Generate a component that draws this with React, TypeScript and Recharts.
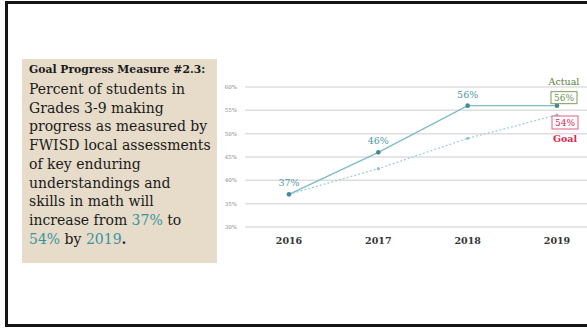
import { LineChart, Line, XAxis, YAxis, CartesianGrid, LabelList } from "recharts";

const years = ["2016", "2017", "2018", "2019"];
const actual = [37, 46, 56, 56];
const goal = [37, 42.5, 49, 54];
const yTicks = [30, 35, 40, 45, 50, 55, 60];

const data = years.map((year, i) => ({ year, actual: actual[i], goal: goal[i] }));

const TEAL = "#7dbcc4";
const DOT = "#3f8c96";
const LABEL = "#4f9aa5";
const SERIF = "'DejaVu Serif', serif";

const ActualLabel = (props: any) => {
  const { x, y, index, value } = props;
  if (index === years.length - 1) {
    return (
      <g>
        <text x={x + 7} y={y - 21} textAnchor="middle" fontFamily={SERIF} fontSize={9.5} fill="#5a7f3c">
          Actual
        </text>
        <rect x={x - 6} y={y - 14} width={26} height={12} fill="#fff" stroke="#7e9b5e" strokeWidth={1} />
        <text x={x + 7} y={y - 4.5} textAnchor="middle" fontFamily={SERIF} fontSize={9} fill="#6f8f52">
          {value}%
        </text>
      </g>
    );
  }
  return (
    <text x={x} y={y - 8} textAnchor="middle" fontFamily={SERIF} fontSize={9.5} fill={LABEL}>
      {value}%
    </text>
  );
};

const GoalLabel = (props: any) => {
  const { x, y, index, value } = props;
  if (index !== years.length - 1) return null;
  return (
    <g>
      <rect x={x - 5} y={y + 1} width={26} height={13} fill="#fff" stroke="#e0607a" strokeWidth={1} />
      <text x={x + 8} y={y + 11} textAnchor="middle" fontFamily={SERIF} fontSize={9} fill="#d6294b">
        {value}%
      </text>
      <text x={x + 8} y={y + 27} textAnchor="middle" fontFamily={SERIF} fontSize={9.5} fontWeight="bold" fill="#e0244c">
        Goal
      </text>
    </g>
  );
};

const hl = { color: "#3a93a0" };

export default function App() {
  return (
    <div style={{ position: "absolute", left: 0, top: 0, width: 587, height: 328, overflow: "hidden", background: "#fff" }}>
      <div
        style={{
          position: "absolute",
          left: 5,
          top: 1,
          width: 620,
          height: 320,
          borderTop: "3px solid #151515",
          borderLeft: "3px solid #151515",
          borderBottom: "3px solid #151515",
        }}
      />
      <div
        style={{
          position: "absolute",
          left: 22,
          top: 59,
          width: 195,
          height: 204,
          background: "#e7dcca",
        }}
      />
      <div
        style={{
          position: "absolute",
          left: 29,
          top: 62,
          fontFamily: SERIF,
          color: "#1a1a1a",
          whiteSpace: "nowrap",
        }}
      >
        <div style={{ fontSize: 10.8, fontWeight: "bold", lineHeight: "15px" }}>Goal Progress Measure #2.3:</div>
        <div style={{ fontSize: 14, lineHeight: "18.7px", marginTop: 3 }}>
          Percent of students in
          <br />
          Grades 3-9 making
          <br />
          progress as measured by
          <br />
          FWISD local assessments
          <br />
          of key enduring
          <br />
          understandings and
          <br />
          skills in math will
          <br />
          increase from <span style={hl}>37%</span> to
          <br />
          <span style={hl}>54%</span> by <span style={hl}>2019</span>
          <b>.</b>
        </div>
      </div>
      <div style={{ position: "absolute", left: 200, top: 60 }}>
        <LineChart width={400} height={197} data={data} margin={{ top: 27, right: 0, left: 0, bottom: 0 }}>
          <CartesianGrid vertical={false} stroke="#dedede" strokeWidth={1.5} />
          <XAxis
            dataKey="year"
            axisLine={false}
            tickLine={false}
            tickSize={0}
            tickMargin={10}
            height={30}
            padding={{ left: 44, right: 43 }}
            tick={{ fontFamily: SERIF, fontSize: 9.5, fontWeight: "bold", fill: "#333" }}
          />
          <YAxis
            domain={[30, 60]}
            ticks={yTicks}
            width={45}
            axisLine={false}
            tickLine={false}
            tickSize={0}
            tickMargin={8}
            tickFormatter={(v) => `${v}%`}
            tick={{ fontFamily: SERIF, fontSize: 5.5, fill: "#888" }}
          />
          <Line
            dataKey="goal"
            stroke="#9fd0d6"
            strokeWidth={1.3}
            strokeDasharray="2 2"
            dot={{ r: 1.6, fill: "#8cc3cb", stroke: "none" }}
            isAnimationActive={false}
          >
            <LabelList dataKey="goal" content={GoalLabel} />
          </Line>
          <Line
            dataKey="actual"
            stroke={TEAL}
            strokeWidth={1.3}
            dot={{ r: 2.3, fill: DOT, stroke: "none" }}
            isAnimationActive={false}
          >
            <LabelList dataKey="actual" content={ActualLabel} />
          </Line>
        </LineChart>
      </div>
    </div>
  );
}
